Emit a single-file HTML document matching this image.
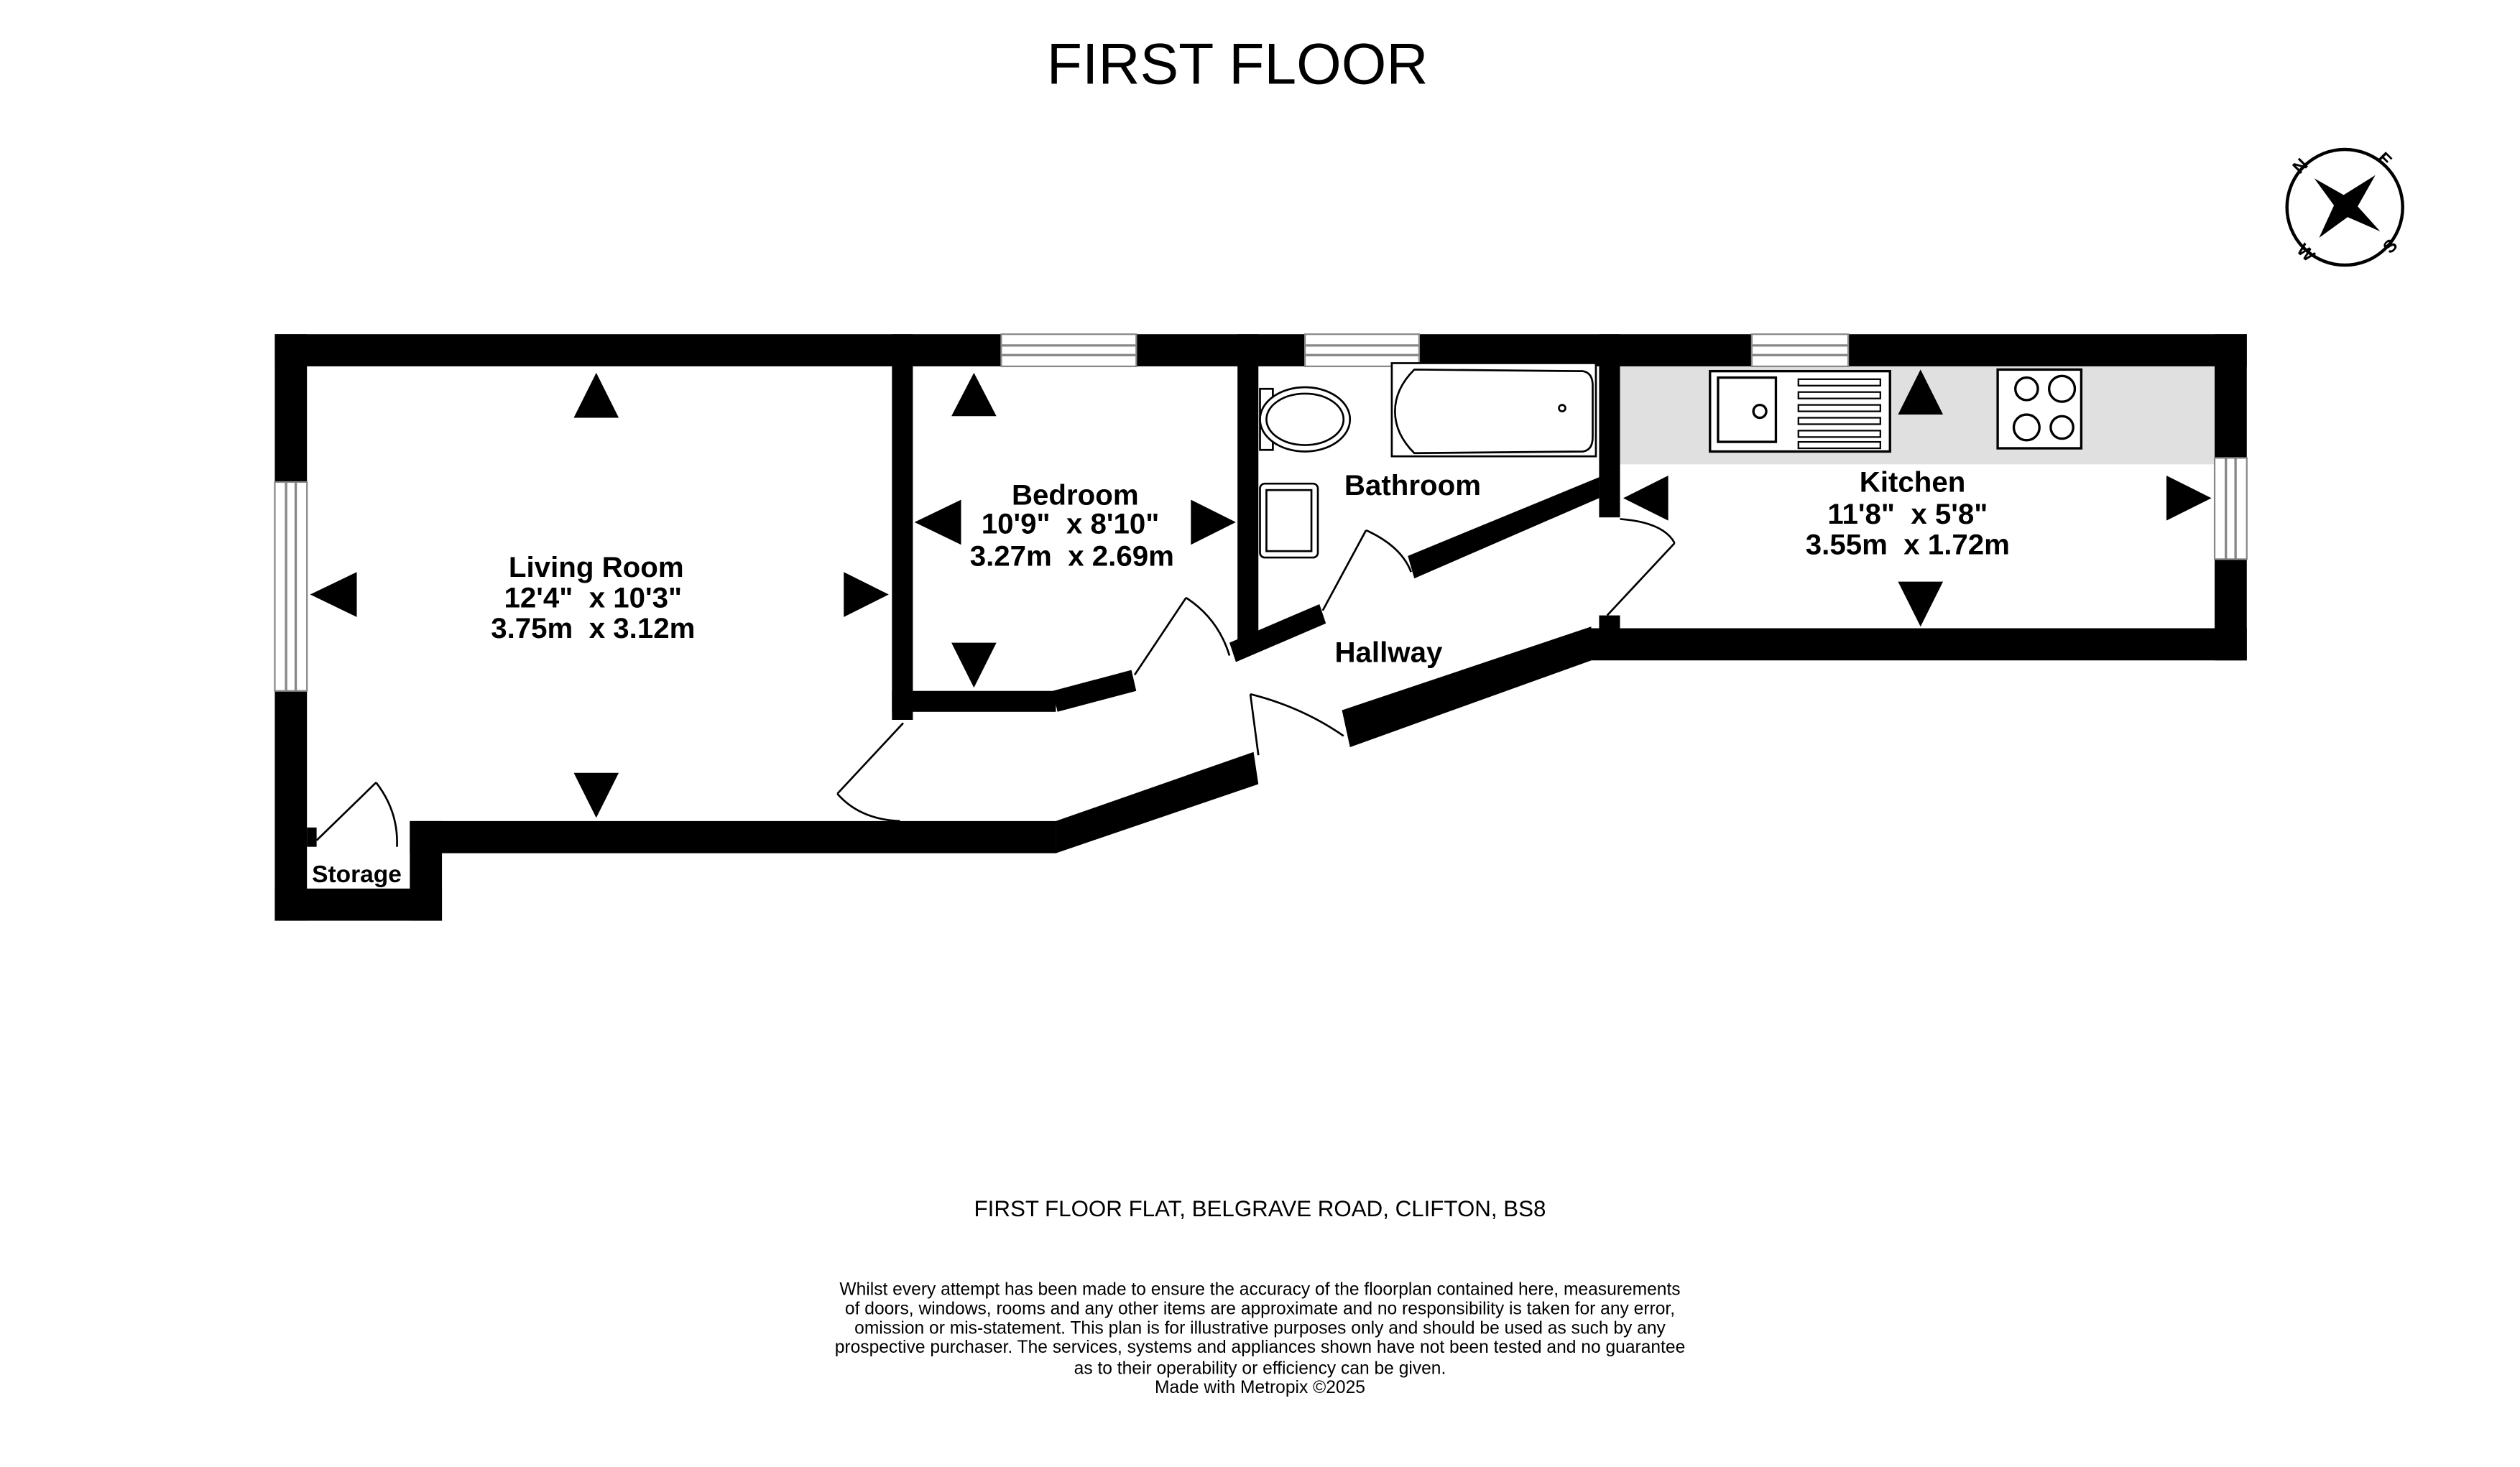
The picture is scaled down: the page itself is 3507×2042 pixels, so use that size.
<!DOCTYPE html>
<html><head><meta charset="utf-8"><style>
html,body{margin:0;padding:0;background:#fff}
svg{display:block}
text{font-family:"Liberation Sans",sans-serif;fill:#000;white-space:pre}
</style></head><body>
<svg width="3507" height="2042" viewBox="0 0 1568 913" preserveAspectRatio="none" xmlns="http://www.w3.org/2000/svg">
<rect width="1568" height="913" fill="#fff"/>
<text x="770" y="52" font-size="36" text-anchor="middle">FIRST FLOOR</text>

<rect x="1008" y="228" width="370" height="61" fill="#e0e0e0"/>

<g fill="#000">
<rect x="171" y="208" width="1227" height="20"/>
<rect x="171" y="208" width="20" height="365"/>
<rect x="171" y="553" width="104" height="20"/>
<rect x="255" y="511" width="20" height="62"/>
<rect x="191" y="515" width="6" height="12"/>
<rect x="255" y="511" width="402" height="20"/>
<polygon points="657,511 780,468 783,488 657,531"/>
<rect x="555" y="208" width="13" height="240"/>
<rect x="555" y="430" width="102" height="13"/>
<polygon points="655,430 704,417 707,430 658,443"/>
<rect x="770" y="208" width="13" height="190"/>
<polygon points="765,400 821,376 825,388 769,412"/>
<polygon points="876,346 995,297 995,310 880,360"/>
<rect x="995" y="208" width="13" height="114"/>
<polygon points="835,442 990,390 993,410 840,465"/>
<rect x="988" y="391" width="410" height="20"/>
<rect x="995" y="383" width="13" height="15"/>
<rect x="1378" y="208" width="20" height="203"/>
</g>

<g fill="#fff" stroke="#888" stroke-width="1">
<rect x="171" y="300" width="20" height="130"/>
<rect x="623" y="208" width="84" height="20"/>
<rect x="812" y="208" width="71" height="20"/>
<rect x="1090" y="208" width="60" height="20"/>
<rect x="1378" y="285" width="20" height="63"/>
</g>
<g stroke="#888" stroke-width="1.5">
<line x1="178" y1="300" x2="178" y2="430"/><line x1="184" y1="300" x2="184" y2="430"/>
<line x1="623" y1="215" x2="707" y2="215"/><line x1="623" y1="221" x2="707" y2="221"/>
<line x1="812" y1="215" x2="883" y2="215"/><line x1="812" y1="221" x2="883" y2="221"/>
<line x1="1090" y1="215" x2="1150" y2="215"/><line x1="1090" y1="221" x2="1150" y2="221"/>
<line x1="1385" y1="285" x2="1385" y2="348"/><line x1="1391" y1="285" x2="1391" y2="348"/>
</g>

<g fill="none" stroke="#000" stroke-width="1.2">
<line x1="197" y1="523" x2="234" y2="487"/><path d="M234,487 Q248,505 247,527"/>
<line x1="562" y1="450" x2="521" y2="494"/><path d="M521,494 Q535,510 560,511"/>
<line x1="706" y1="420" x2="738" y2="372"/><path d="M738,372 Q758,385 765,408"/>
<line x1="783" y1="470" x2="778" y2="432"/><path d="M778,432 Q810,440 836,458"/>
<line x1="823" y1="380" x2="850" y2="330"/><path d="M850,330 Q872,340 878,356"/>
<line x1="1000" y1="383" x2="1042" y2="338"/><path d="M1008,323 Q1035,325 1042,338"/>
</g>

<g fill="#fff" stroke="#000" stroke-width="1.2">
<rect x="866" y="226" width="127" height="58"/>
<path d="M880,230 L985,231 Q991,232 991,240 L991,272 Q991,280 985,281 L880,282 Q868,270 868,256 Q868,242 880,230 Z"/>
<rect x="784" y="242" width="8" height="38"/>
<ellipse cx="812" cy="261" rx="28" ry="20"/>
<ellipse cx="812" cy="261" rx="24" ry="16"/>
<rect x="784" y="301" width="36" height="46" rx="3"/>
<rect x="788" y="305" width="28" height="38"/>
<circle cx="972" cy="254" r="2"/>
</g>

<g fill="#fff" stroke="#000" stroke-width="1.5">
<rect x="1064" y="231" width="112" height="50"/>
<rect x="1069" y="235" width="36" height="40"/>
<circle cx="1095" cy="256" r="4"/>
<rect x="1243" y="230" width="52" height="49"/>
<circle cx="1261" cy="242" r="7"/><circle cx="1283" cy="242" r="8"/>
<circle cx="1261" cy="266" r="8"/><circle cx="1283" cy="266" r="7"/>
</g>
<g fill="#fff" stroke="#000" stroke-width="1">
<rect x="1119" y="236" width="51" height="4"/><rect x="1119" y="244" width="51" height="4"/>
<rect x="1119" y="252" width="51" height="4"/><rect x="1119" y="260" width="51" height="4"/>
<rect x="1119" y="268" width="51" height="4"/><rect x="1119" y="275" width="51" height="4"/>
</g>

<g fill="#000">
<polygon points="371,232 357,260 385,260"/>
<polygon points="371,509 357,481 385,481"/>
<polygon points="193,370 222,356 222,384"/>
<polygon points="553,370 525,356 525,384"/>
<polygon points="606,232 592,259 620,259"/>
<polygon points="606,428 592,400 620,400"/>
<polygon points="569,325 598,311 598,339"/>
<polygon points="769,325 741,311 741,339"/>
<polygon points="1195,230 1181,258 1209,258"/>
<polygon points="1195,390 1181,362 1209,362"/>
<polygon points="1010,310 1038,296 1038,324"/>
<polygon points="1376,310 1348,296 1348,324"/>
</g>

<g font-weight="bold" font-size="18" text-anchor="middle">
<text x="371" y="359">Living Room</text>
<text x="369" y="378">12'4"  x 10'3"</text>
<text x="369" y="397">3.75m  x 3.12m</text>
<text x="669" y="314">Bedroom</text>
<text x="666" y="332">10'9"  x 8'10"</text>
<text x="667" y="352">3.27m  x 2.69m</text>
<text x="879" y="308">Bathroom</text>
<text x="1190" y="306">Kitchen</text>
<text x="1187" y="326">11'8"  x 5'8"</text>
<text x="1187" y="345">3.55m  x 1.72m</text>
<text x="864" y="412">Hallway</text>
<text x="222" y="549" font-size="15">Storage</text>
</g>

<g>
<circle cx="1459" cy="129" r="36" fill="none" stroke="#000" stroke-width="2"/>
<polygon points="1440,111 1463,124 1481,144 1456,133" fill="#000"/>
<polygon points="1478,109 1465,132 1443,148 1454,124" fill="#000"/>
<g font-size="11" font-weight="bold" text-anchor="middle">
<text x="1431" y="107" transform="rotate(-45 1431 103)">N</text>
<text x="1484" y="103" transform="rotate(45 1484 99)">E</text>
<text x="1487" y="157" transform="rotate(-45 1487 153)">S</text>
<text x="1435" y="161" transform="rotate(45 1435 157)">W</text>
</g>
</g>

<text x="784" y="757" font-size="14" text-anchor="middle">FIRST FLOOR FLAT, BELGRAVE ROAD, CLIFTON, BS8</text>
<g font-size="11" text-anchor="middle">
<text x="784" y="806">Whilst every attempt has been made to ensure the accuracy of the floorplan contained here, measurements</text>
<text x="784" y="818">of doors, windows, rooms and any other items are approximate and no responsibility is taken for any error,</text>
<text x="784" y="830">omission or mis-statement. This plan is for illustrative purposes only and should be used as such by any</text>
<text x="784" y="842">prospective purchaser. The services, systems and appliances shown have not been tested and no guarantee</text>
<text x="784" y="855">as to their operability or efficiency can be given.</text>
<text x="784" y="867">Made with Metropix ©2025</text>
</g>
</svg>
</body></html>
